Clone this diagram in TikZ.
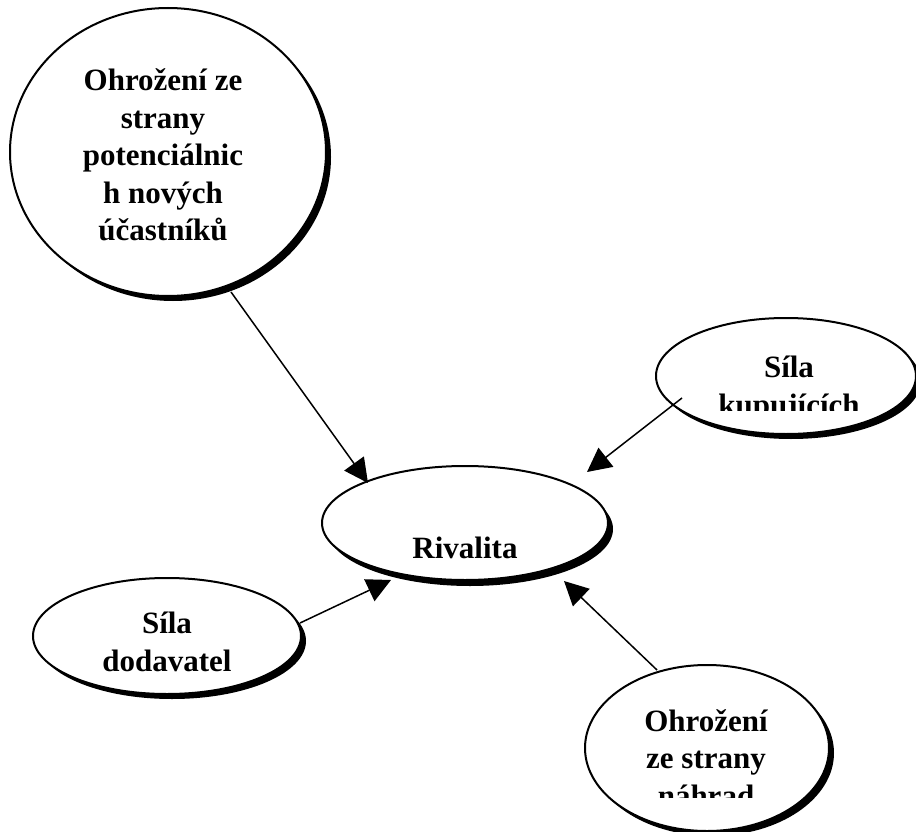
\documentclass[tikz,border=0pt]{standalone}
\usepackage{fontspec}
\setmainfont{Liberation Serif}
\usetikzlibrary{shapes.geometric,arrows.meta}
\tikzset{
  bubble/.style={ellipse, draw=black, fill=white, line width=2pt, inner sep=0pt, outer sep=0pt},
  shadowb/.style={ellipse, fill=black, inner sep=0pt, outer sep=0pt},
  lbl/.style={font=\bfseries\fontsize{31}{37.5}\selectfont, align=center, inner sep=0pt},
  arr/.style={line width=1.5pt, -{Triangle[length=24pt,width=24pt]}}
}
\begin{document}
\begin{tikzpicture}[x=1pt,y=-1pt]
\useasboundingbox (0,0) rectangle (916,832);
% shadows
\node[shadowb, minimum width=316pt, minimum height=288pt] (s1) at (173,157) {};
\node[shadowb, minimum width=260pt, minimum height=116pt] (s2) at (791,381) {};
\node[shadowb, minimum width=286pt, minimum height=114pt] (s3) at (470,529) {};
\node[shadowb, minimum width=268pt, minimum height=116pt] (s4) at (172,641) {};
\node[shadowb, minimum width=244pt, minimum height=166pt] (s5) at (712,753) {};
% ellipses
\node[bubble, minimum width=316pt, minimum height=288pt] (nov) at (168,152) {};
\node[bubble, minimum width=260pt, minimum height=116pt] (kup) at (786,376) {};
\node[bubble, minimum width=286pt, minimum height=114pt] (riv) at (465,523) {};
\node[bubble, minimum width=268pt, minimum height=116pt] (dod) at (167,636) {};
\node[bubble, minimum width=244pt, minimum height=166pt] (nah) at (707,748) {};
% labels
\node[lbl] (tnov) at (163,155) {Ohrožení ze\\strany\\potenciálnic\\h nových\\účastníků};
\begin{scope}
\clip (640,330) rectangle (900,410);
\node[lbl] (tkup) at (789,389) {Síla\\kupujících};
\end{scope}
\node[lbl] (triv) at (465,548) {Rivalita};
\node[lbl] (tdod) at (167,642) {Síla\\dodavatel};
\begin{scope}
\clip (600,680) rectangle (820,797);
\node[lbl] (tnah) at (706,758) {Ohrožení\\ze strany\\náhrad};
\end{scope}
% connector ends
\coordinate (a1) at (231,292);
\coordinate (e1) at (368,483);
\coordinate (a2) at (682,398);
\coordinate (e2) at (587,472);
\coordinate (a3) at (300,623);
\coordinate (e3) at (391,580);
\coordinate (a4) at (657,670);
\coordinate (e4) at (564,581);
\draw[arr] (a1) -- (e1);
\draw[arr] (a2) -- (e2);
\draw[arr] (a3) -- (e3);
\draw[arr] (a4) -- (e4);
\end{tikzpicture}
\end{document}
